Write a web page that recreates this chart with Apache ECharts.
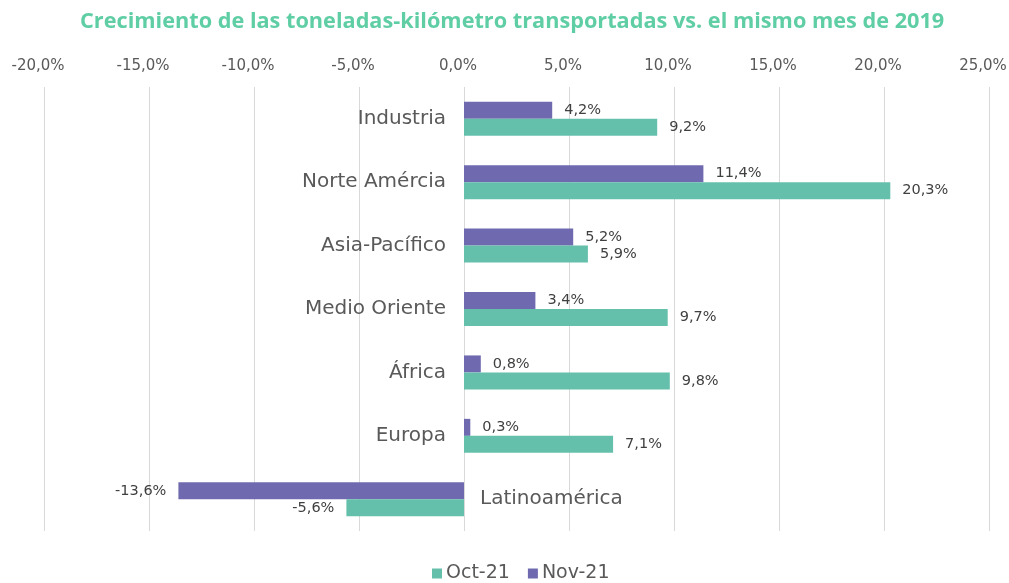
<!DOCTYPE html>
<html>
<head>
<meta charset="utf-8">
<script src="https://cdn.jsdelivr.net/npm/echarts@6/dist/echarts.min.js"></script>
<style>
  html, body { margin: 0; padding: 0; background: #fff; }
  #chart { width: 1009px; height: 583px; }
</style>
</head>
<body>
<div id="chart"></div>
<script>
// Regions, top to bottom
const categories = ['Industria', 'Norte Amércia', 'Asia-Pacífico', 'Medio Oriente', 'África', 'Europa', 'Latinoamérica'];
// Year-over-year growth vs. the same month of 2019 (%)
const oct21 = [9.2, 20.3, 5.9, 9.7, 9.8, 7.1, -5.6];
const nov21 = [4.2, 11.4, 5.2, 3.4, 0.8, 0.3, -13.6];
const xTicks = { min: -20, max: 25, step: 5 };

const FONT = 'DejaVu Sans';
const TEXT = '#595959';
const fmt = v => v.toFixed(1).replace('.', ',') + '%';

function labelled(values) {
  return values.map(v => ({
    value: v,
    label: { position: v < 0 ? 'left' : 'right' }
  }));
}

// Region names sit next to the zero line: left of it when the bars grow
// to the right, right of it when both bars are negative.
const nameMarks = categories.map((c, i) => {
  const negative = oct21[i] < 0 && nov21[i] < 0;
  return {
    value: [0, c],
    label: { position: negative ? 'right' : 'left', distance: negative ? 16 : 18 }
  };
});

const chart = echarts.init(document.getElementById('chart'), null, { renderer: 'canvas' });
chart.setOption({
  animation: false,
  textStyle: { fontFamily: FONT },
  title: {
    text: 'Crecimiento de las toneladas-kilómetro transportadas vs. el mismo mes de 2019',
    left: 75,
    top: 6,
    textStyle: { color: '#5fcea5', fontSize: 21.7, fontWeight: 'bold', fontFamily: 'Open Sans' }
  },
  legend: {
    top: 564,
    left: 432,
    data: ['Oct-21', 'Nov-21'],
    icon: 'rect',
    itemWidth: 10,
    itemHeight: 10,
    itemGap: 18,
    padding: 0,
    textStyle: { color: TEXT, fontSize: 19, fontFamily: FONT, padding: [0, 0, 0, -1] }
  },
  grid: { left: 44, right: 20, top: 87, height: 444, containLabel: false, outerBoundsMode: 'none' },
  xAxis: {
    type: 'value',
    position: 'top',
    min: xTicks.min,
    max: xTicks.max,
    interval: xTicks.step,
    axisLine: { show: false },
    axisTick: { show: false },
    axisLabel: { color: TEXT, fontSize: 15, margin: 13, padding: [0, 12, 0, 0], formatter: v => fmt(v), fontFamily: FONT },
    splitLine: { lineStyle: { color: '#d9d9d9', width: 1 } }
  },
  yAxis: {
    type: 'category',
    data: categories,
    inverse: true,
    axisLine: { show: false },
    axisTick: { show: false },
    axisLabel: { show: false },
    splitLine: { show: false }
  },
  series: [
    {
      name: 'Nov-21',
      type: 'bar',
      data: labelled(nov21),
      barWidth: 17,
      barGap: '0%',
      itemStyle: { color: '#6f6aaf' },
      label: { show: true, distance: 12, color: '#404040', fontSize: 14.5, fontFamily: FONT, formatter: p => fmt(p.value) }
    },
    {
      name: 'Oct-21',
      type: 'bar',
      data: labelled(oct21),
      barWidth: 17,
      barGap: '0%',
      itemStyle: { color: '#65c0ab' },
      label: { show: true, distance: 12, color: '#404040', fontSize: 14.5, fontFamily: FONT, formatter: p => fmt(p.value) }
    },
    {
      name: 'regiones',
      type: 'scatter',
      data: nameMarks,
      symbolSize: 0,
      silent: true,
      z: 5,
      itemStyle: { opacity: 1, color: TEXT },
      label: { show: true, opacity: 1, color: TEXT, fontSize: 20, fontFamily: FONT, formatter: p => p.value[1] }
    }
  ]
});
</script>
</body>
</html>
